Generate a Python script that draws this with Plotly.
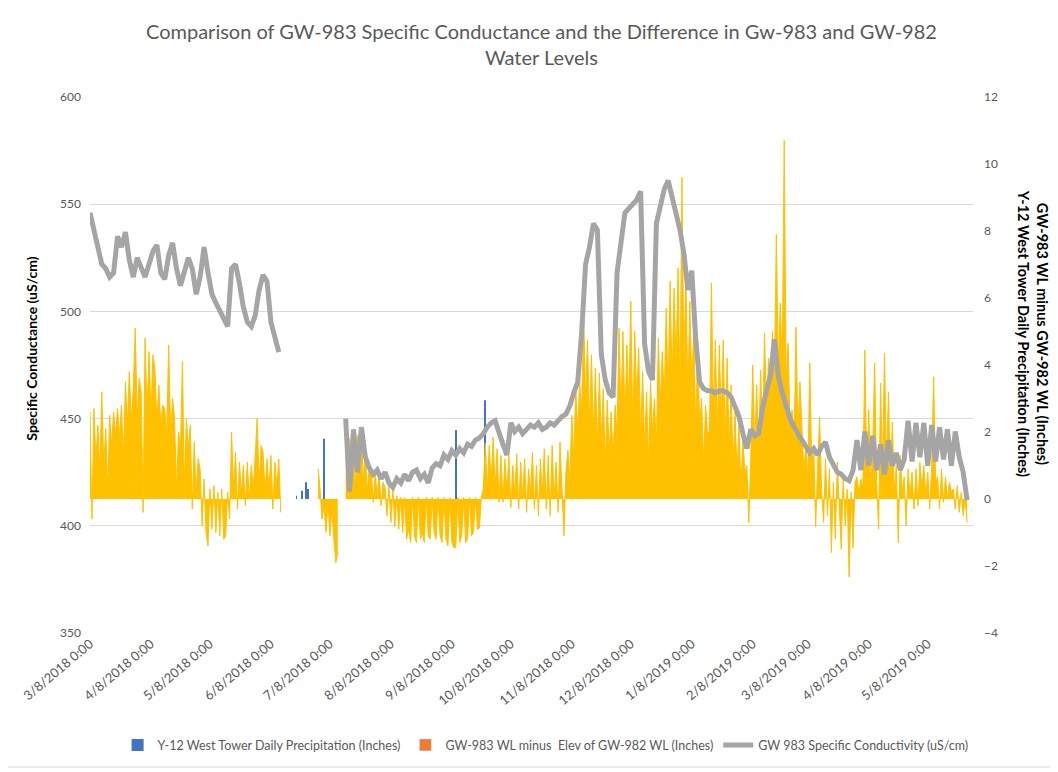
import pandas as pd
import plotly.graph_objects as go

# ---------------- data ----------------
tick_dates = ["2018-03-08", "2018-04-08", "2018-05-08", "2018-06-08", "2018-07-08",
              "2018-08-08", "2018-09-08", "2018-10-08", "2018-11-08", "2018-12-08",
              "2019-01-08", "2019-02-08", "2019-03-08", "2019-04-08", "2019-05-08"]
tick_labels = ["3/8/2018 0:00", "4/8/2018 0:00", "5/8/2018 0:00", "6/8/2018 0:00",
               "7/8/2018 0:00", "8/8/2018 0:00", "9/8/2018 0:00", "10/8/2018 0:00",
               "11/8/2018 0:00", "12/8/2018 0:00", "1/8/2019 0:00", "2/8/2019 0:00",
               "3/8/2019 0:00", "4/8/2019 0:00", "5/8/2019 0:00"]

# GW 983 specific conductivity (uS/cm), one value every 2 days
cond_seg1_start = "2018-03-08"
cond_seg1 = [546, 538, 532, 522, 520, 516, 518, 535, 530, 537, 524, 516, 525, 520, 516,
             522, 528, 531, 518, 515, 526, 532, 520, 512, 518, 525, 520, 508, 516, 530,
             518, 508, 504, 500, 496, 493, 520, 522, 513, 502, 495, 493, 498, 510, 517,
             514, 495, 488, 481]
cond_seg2_start = "2018-07-16"
cond_seg2 = [450, 416, 445, 425, 446, 432, 427, 424, 426, 422, 425, 420, 418, 422, 420,
             424, 421, 425, 426, 422, 424, 420, 427, 429, 428, 433, 431, 435, 433, 436,
             434, 438, 437, 440, 441, 443, 446, 448, 449, 443, 438, 433, 448, 444, 446,
             443, 445, 447, 446, 448, 445, 446, 448, 447, 449, 451, 452, 456, 462, 467,
             490, 522, 530, 541, 538, 480, 468, 462, 460, 518, 532, 546, 548, 550, 552,
             556, 485, 472, 468, 541, 550, 557, 561, 553, 545, 538, 527, 510, 519, 487,
             467, 464, 463, 463, 462, 463, 463, 462, 460, 455, 451, 443, 436, 445, 442,
             443, 455, 463, 470, 487, 470, 462, 455, 450, 446, 443, 440, 438, 434, 436,
             433, 437, 439, 432, 428, 425, 424, 422, 421, 426, 440, 426, 444, 428, 442,
             426, 438, 424, 440, 428, 434, 426, 431, 449, 430, 448, 432, 448, 428, 447,
             430, 446, 431, 445, 428, 444, 432, 425, 412]

# GW-983 WL minus GW-982 WL (inches), one value per day
wl_seg1_start = "2018-03-08"
wl_seg1 = [2.6, -0.6, 2.7, 1.2, 2.2, 0.8, 3.2, 1.0, 2.1, 0.3,
           2.5, 1.6, 2.6, 1.9, 2.7, 1.9, 2.8, 1.2, 3.5, 2.2,
           3.8, 2.3, 3.3, 5.1, 2.4, 3.6, 3.2, -0.4, 4.8, 2.6,
           4.4, 2.5, 4.3, 3.9, 2.3, 3.4, 2.2, 2.8, 2.7, 1.9,
           4.6, 2.0, 3.0, 2.4, 0.2, 2.0, 1.5, 4.1, 0.3, 2.4,
           1.5, 2.2, -0.3, 1.7, 0.2, 1.2, 0.9, -0.8, 0.6, -1.0,
           -1.4, 0.3, -0.9, 0.4, -1.0, 0.2, -1.1, 0.3, -1.2, -1.1,
           0.2, -0.6, 2.0, 0.3, 1.4, -0.3, 1.1, 0.2, 1.0, -0.2,
           1.1, 0.0, 1.0, 0.3, 1.3, 2.4, 0.5, 1.6, 1.4, 0.2,
           1.2, 0.3, 1.3, -0.3, 1.1, 0.4, 1.2, -0.4]
wl_seg2_start = "2018-07-02"
wl_seg2 = [0.9, 0.3, -0.6, -0.2, -1.0, -0.1, -1.1, -0.3, -1.2, -1.9, -1.6]
wl_seg3_start = "2018-07-16"
wl_seg3 = [1.7, 0.1, 1.8, 0.6, 1.5, 0.3, 1.9, 1.0, 2.1, 0.5,
           1.4, 0.2, 1.0, 0.96, -0.1, 0.8, 0.1, 0.78, -0.2, 0.5,
           0.36, -0.5, 0.4, -0.7, 0.3, -0.83, 0.1, -0.9, 0.05, -1.0,
           0.05, -1.2, -0.9, -1.3, 0.05, -1.1, -1.3, 0.05, -1.2, -1.0,
           -1.3, 0.05, -1.1, -1.2, 0.05, -1.0, -1.2, 0.05, -1.1, -1.3,
           0.05, -1.2, -1.4, 0.05, -1.3, -1.45, -1.46, 0.05, -1.3, -1.1,
           0.05, -1.3, -1.2, 0.05, -1.1, -1.0, 0.05, -0.9, -0.87, 0.05,
           0.3, 1.67, 0.2, 1.6, 0.5, 1.85, 0.3, 1.5, -0.1, 1.3,
           -0.1, 1.2, 0.2, 1.3, -0.25, 1.0, 0.1, 1.35, -0.3, 1.1,
           0.0, 1.2, -0.4, 0.9, 0.2, 1.4, -0.3, 1.0, -0.5, 1.2,
           0.1, 1.5, -0.3, 1.3, -0.5, 1.6, 0.0, 1.1, -0.4, 1.7,
           0.3, -1.1, 0.8, 1.46, 0.6, 2.5, 1.2, 3.3, 2.0, 3.5,
           2.5, 5.6, 3.0, 4.75, 2.2, 4.3, 2.0, 3.9, 1.5, 3.76,
           1.8, 3.3, 1.0, 2.95, 1.4, 2.6, 1.2, 2.8, 2.0, 5.1,
           2.5, 5.0, 2.3, 4.6, 2.8, 5.9, 2.0, 5.0, 3.0, 4.5,
           1.8, 3.8, 1.5, 3.2, 1.0, 3.5, 2.0, 3.0, 1.5, 4.8,
           2.8, 4.4, 3.0, 5.7, 3.2, 6.5, 3.5, 6.3, 4.0, 6.9,
           3.0, 9.6, 4.0, 6.75, 3.0, 5.9, 3.5, 5.1, 2.0, 4.75,
           2.2, 3.0, 1.0, 2.8, 2.0, 1.97, 6.45, 2.5, 4.75, 2.0,
           4.6, 2.4, 4.75, 1.8, 4.2, 1.5, 3.4, 1.0, 2.6, 0.8,
           2.2, 0.3, 1.8, 0.78, 1.0, -0.7, 1.2, 4.0, 1.5, 3.4,
           1.5, 3.85, 2.0, 4.95, 2.5, 4.2, 3.0, 5.0, 3.5, 7.9,
           4.0, 5.85, 4.0, 10.7, 3.5, 4.65, 2.0, 2.66, 1.5, 5.13,
           2.0, 3.5, 2.15, 0.8, 1.6, 0.5, 4.06, 1.0, 1.6, -0.83,
           1.0, 2.45, 0.3, -0.7, 1.2, -0.5, 0.9, -1.6, 0.5, -1.2,
           1.1, -0.4, -1.5, 0.7, -0.8, 0.3, -2.33, 0.2, -1.45, 0.5,
           0.66, 0.2, 0.6, 0.3, 4.45, 0.8, 2.66, 0.4, 1.5, 4.06,
           0.5, -0.9, 3.46, 0.8, 4.35, 1.0, 3.2, 0.5, 2.3, 0.2,
           1.0, -1.3, 1.3, 0.2, 0.66, -0.8, 0.9, 0.1, 0.8, -0.3,
           0.9, -0.2, 1.1, 0.3, 1.0, 0.1, 0.8, -0.3, 1.0, 3.65,
           0.5, 0.66, -0.3, 0.9, -0.1, 0.66, 0.0, 0.5, 0.2, 0.3,
           -0.3, 0.4, -0.4, 0.2, -0.5, 0.0, -0.7]

# Y-12 West Tower daily precipitation (inches), visible days only
precip_dates = ["2018-06-21", "2018-06-24", "2018-06-26", "2018-06-27",
                "2018-07-05", "2018-09-10", "2018-09-25"]
precip_vals = [0.1, 0.25, 0.5, 0.3, 1.8, 2.06, 2.95]

# ---------------- helpers ----------------
def dates(start, vals, freq):
    return pd.date_range(start, periods=len(vals), freq=freq)

cond_x = list(dates(cond_seg1_start, cond_seg1, "2D")) + [None] + list(dates(cond_seg2_start, cond_seg2, "2D"))
cond_y = cond_seg1 + [None] + cond_seg2

FONT = "Lato, 'Open Sans', sans-serif"
GREY_TXT = "#595959"

fig = go.Figure()

fig.add_trace(go.Bar(
    x=pd.to_datetime(precip_dates), y=precip_vals, yaxis="y",
    name="Y-12 West Tower Daily Precipitation (Inches)",
    marker=dict(color="#4472C4", line=dict(width=0)), width=86400000 * 0.45,
))
fig.add_trace(go.Bar(
    x=[None], y=[None], yaxis="y",
    name="GW-983 WL minus  Elev of GW-982 WL (Inches)",
    marker=dict(color="#ED7D31"),
))
for start, vals in [(wl_seg1_start, wl_seg1), (wl_seg2_start, wl_seg2), (wl_seg3_start, wl_seg3)]:
    fig.add_trace(go.Scatter(
        x=dates(start, vals, "D"), y=vals, yaxis="y", mode="lines", fill="tozeroy",
        line=dict(color="#FFC000", width=1), fillcolor="#FFC000",
        showlegend=False,
    ))
fig.add_trace(go.Scatter(
    x=cond_x, y=cond_y, yaxis="y2", mode="lines",
    name="GW 983 Specific Conductivity (uS/cm)",
    line=dict(color="#A5A5A5", width=5), connectgaps=False,
))

# page body has an 8px margin: figure is sized/offset so the plot area lands where it should
fig.update_layout(
    width=1050, height=764,
    margin=dict(l=82, r=85, t=89, b=139),
    paper_bgcolor="white", plot_bgcolor="white",
    font=dict(family=FONT, color=GREY_TXT, size=12),
    barmode="overlay",
    xaxis=dict(
        type="date", range=["2018-03-08", "2019-05-31"],
        tickmode="array", tickvals=tick_dates, ticktext=tick_labels,
        tickangle=-40, tickfont=dict(size=13, color=GREY_TXT),
        showgrid=False, zeroline=False, showline=False, ticks="",
        automargin=False,
    ),
    yaxis=dict(
        side="right", range=[-4, 12], dtick=2, tick0=-4,
        showgrid=False, zeroline=False, showline=False,
        tickfont=dict(size=12, color=GREY_TXT), ticklabelstandoff=10,
        automargin=False,
    ),
    yaxis2=dict(
        overlaying="y", side="left", range=[350, 600], dtick=50, tick0=350,
        showgrid=True, gridcolor="#D9D9D9", gridwidth=1, zeroline=False, showline=False,
        tickfont=dict(size=12, color=GREY_TXT), ticklabelstandoff=8,
        automargin=False,
    ),
    legend=dict(
        orientation="h", xref="container", yref="container",
        x=0.512, xanchor="center", y=0.035, yanchor="middle",
        font=dict(size=12.5, color=GREY_TXT), traceorder="normal",
        itemwidth=30,
    ),
    annotations=[
        dict(text="Comparison of GW-983 Specific Conductance and the Difference in Gw-983 and GW-982<br>Water Levels",
             xref="paper", yref="paper", x=0.511, y=1.099, xanchor="center", yanchor="middle",
             showarrow=False, font=dict(family=FONT, size=20, color=GREY_TXT)),
        dict(text="<b>Specific Conductance (uS/cm)</b>", textangle=-90,
             xref="paper", yref="paper", x=-0.066, y=0.53, xanchor="center", yanchor="middle",
             showarrow=False, font=dict(family=FONT, size=14, color="black")),
        dict(text="<b>GW-983 WL minus GW-982 WL (Inches)<br>Y-12 West Tower Daily Precipitation (Inches)</b>",
             textangle=90, xref="paper", yref="paper", x=1.068, y=0.56,
             xanchor="center", yanchor="middle",
             showarrow=False, font=dict(family=FONT, size=14.5, color="black")),
    ],
    shapes=[
        dict(type="rect", xref="paper", yref="paper", x0=-0.096, x1=1.089, y0=-0.25, y1=1.172,
             line=dict(color="#D9D9D9", width=1), fillcolor="rgba(0,0,0,0)", layer="below"),
    ],
)

fig.write_html("out.html")
